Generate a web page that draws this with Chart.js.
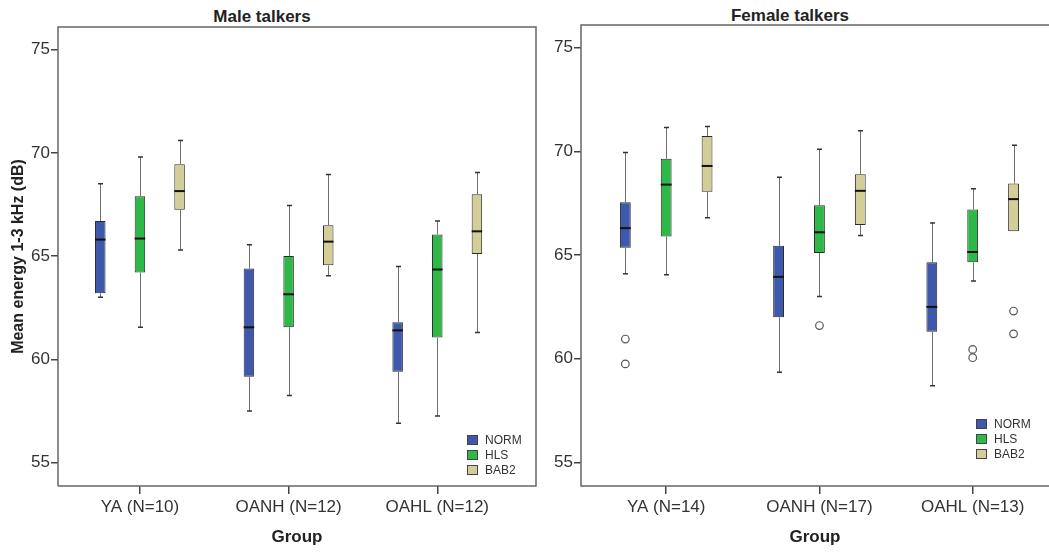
<!DOCTYPE html>
<html lang="en">
<head>
    <meta charset="UTF-8">
    <title>Mean energy 1-3 kHz by group</title>
    <script src="https://cdn.jsdelivr.net/npm/chart.js"></script>
    <style>
        body { margin: 0; background: white; overflow: hidden; font-family: "Liberation Sans", Arial, sans-serif; }
        .panel { position: absolute; top: 0; }
        .panel-title { position: absolute; font-weight: bold; font-size: 17px; line-height: 20px; color: #222; white-space: nowrap; transform: translateX(-50%); }
    </style>
</head>
<body>
    <div class="panel-title" style="left:262px; top:7px;">Male talkers</div>
    <div class="panel-title" style="left:790px; top:6px;">Female talkers</div>
    <canvas id="maleChart" class="panel" width="545" height="552" style="left:0px;"></canvas>
    <canvas id="femaleChart" class="panel" width="504" height="552" style="left:545px;"></canvas>

    <script>
        // categories and tick labels
        const seriesNames = ["NORM", "HLS", "BAB2"];
        const seriesColors = ["#3E58AC", "#2EB848", "#D3CE97"];
        const maleGroups = ["YA (N=10)", "OANH (N=12)", "OAHL (N=12)"];
        const femaleGroups = ["YA (N=14)", "OANH (N=17)", "OAHL (N=13)"];
        const yTicks = [55, 60, 65, 70, 75];

        // box stats per group: [min, q1, median, q3, max]
        const maleNORM = [[63.0, 63.2, 65.8, 66.7, 68.5], [57.5, 59.15, 61.55, 64.4, 65.55], [56.9, 59.4, 61.4, 61.8, 64.5]];
        const maleHLS  = [[61.55, 64.2, 65.85, 67.9, 69.8], [58.25, 61.55, 63.15, 65.0, 67.45], [57.25, 61.05, 64.35, 66.05, 66.7]];
        const maleBAB2 = [[65.3, 67.25, 68.15, 69.45, 70.6], [64.05, 64.55, 65.7, 66.5, 68.95], [61.3, 65.1, 66.2, 68.0, 69.05]];

        const femaleNORM = [[64.1, 65.35, 66.3, 67.55, 69.95], [59.35, 62.0, 63.95, 65.45, 68.75], [58.7, 61.3, 62.5, 64.65, 66.55]];
        const femaleHLS  = [[64.05, 65.9, 68.4, 69.65, 71.15], [63.0, 65.1, 66.1, 67.4, 70.1], [63.75, 64.65, 65.15, 67.2, 68.2]];
        const femaleBAB2 = [[66.8, 68.05, 69.3, 70.75, 71.2], [65.95, 66.45, 68.1, 68.9, 71.0], [66.15, 66.15, 67.7, 68.45, 70.3]];

        // outliers per group
        const maleOutNORM = [[], [], []];
        const maleOutHLS  = [[], [], []];
        const maleOutBAB2 = [[], [], []];
        const femaleOutNORM = [[60.95, 59.75], [], []];
        const femaleOutHLS  = [[], [61.6], [60.45, 60.05]];
        const femaleOutBAB2 = [[], [], [62.3, 61.2]];

        const fontFamily = "'Liberation Sans', Arial, sans-serif";

        // whiskers, medians and outliers on top of the floating bars
        const boxWhiskers = {
            id: 'boxWhiskers',
            afterDatasetsDraw(chart) {
                const ctx = chart.ctx;
                const y = chart.scales.y;
                ctx.save();
                chart.data.datasets.forEach((ds, di) => {
                    const meta = chart.getDatasetMeta(di);
                    meta.data.forEach((bar, i) => {
                        const s = ds.stats[i];
                        const x = Math.round(bar.x) + 0.5;
                        const w = bar.width;
                        ctx.lineWidth = 1;
                        ctx.strokeStyle = '#6f6f6f';
                        ctx.beginPath();
                        if (s[4] > s[3]) { ctx.moveTo(x, y.getPixelForValue(s[3])); ctx.lineTo(x, y.getPixelForValue(s[4])); }
                        if (s[0] < s[1]) { ctx.moveTo(x, y.getPixelForValue(s[1])); ctx.lineTo(x, y.getPixelForValue(s[0])); }
                        ctx.stroke();
                        // caps
                        ctx.strokeStyle = '#333';
                        ctx.lineWidth = 1.5;
                        ctx.beginPath();
                        if (s[4] > s[3]) { const py = y.getPixelForValue(s[4]); ctx.moveTo(x - 2.5, py); ctx.lineTo(x + 2.5, py); }
                        if (s[0] < s[1]) { const py = y.getPixelForValue(s[0]); ctx.moveTo(x - 2.5, py); ctx.lineTo(x + 2.5, py); }
                        ctx.stroke();
                        // median
                        ctx.strokeStyle = '#111';
                        ctx.lineWidth = 2;
                        ctx.beginPath();
                        const my = y.getPixelForValue(s[2]);
                        ctx.moveTo(bar.x - w / 2, my);
                        ctx.lineTo(bar.x + w / 2, my);
                        ctx.stroke();
                        // outliers
                        ctx.strokeStyle = '#555';
                        ctx.lineWidth = 1.2;
                        ctx.fillStyle = 'white';
                        ds.outliers[i].forEach(v => {
                            ctx.beginPath();
                            ctx.arc(bar.x, y.getPixelForValue(v), 3.8, 0, Math.PI * 2);
                            ctx.fill();
                            ctx.stroke();
                        });
                    });
                });
                ctx.restore();
            }
        };

        // frame round the plot area and the small legend inside it
        const frameLegend = {
            id: 'frameLegend',
            afterDraw(chart, args, opts) {
                const ctx = chart.ctx;
                const a = chart.chartArea;
                ctx.save();
                ctx.strokeStyle = '#666';
                ctx.lineWidth = 1.5;
                ctx.beginPath();
                if (opts.right) {
                    ctx.moveTo(a.left, a.bottom); ctx.lineTo(a.left, a.top); ctx.lineTo(a.right, a.top);
                    ctx.lineTo(a.right, a.bottom); ctx.lineTo(a.left, a.bottom);
                } else {
                    ctx.moveTo(a.right + 2, a.top); ctx.lineTo(a.left, a.top);
                    ctx.lineTo(a.left, a.bottom); ctx.lineTo(a.right + 2, a.bottom);
                }
                ctx.stroke();

                const lx = a.left + opts.legendX;
                let ly = a.bottom - opts.legendY;
                ctx.font = "12px " + fontFamily;
                ctx.textBaseline = 'middle';
                chart.data.datasets.forEach(ds => {
                    ctx.fillStyle = ds.backgroundColor;
                    ctx.fillRect(lx, ly, 11, 10);
                    ctx.strokeStyle = '#444';
                    ctx.lineWidth = 1;
                    ctx.strokeRect(lx + 0.5, ly + 0.5, 10, 9);
                    ctx.fillStyle = '#333';
                    ctx.fillText(ds.label, lx + 18, ly + 5.5);
                    ly += 15;
                });
                ctx.restore();
            }
        };

        function makeChart(id, groups, boxes, outs, cfg) {
            const datasets = seriesNames.map((name, k) => ({
                label: name,
                data: boxes[k].map((b, i) => ({ x: i, y: [b[1], b[3]] })),
                stats: boxes[k],
                outliers: outs[k],
                backgroundColor: seriesColors[k],
                borderColor: '#2b2b2b',
                borderWidth: 1,
                borderSkipped: false,
                categoryPercentage: 0.8,
                barPercentage: 0.265
            }));

            return new Chart(document.getElementById(id), {
                type: 'bar',
                data: { datasets: datasets },
                options: {
                    responsive: false,
                    animation: false,
                    events: [],
                    layout: { padding: cfg.padding },
                    plugins: {
                        legend: { display: false },
                        tooltip: { enabled: false },
                        frameLegend: { right: cfg.frameRight, legendX: cfg.legendX, legendY: cfg.legendY }
                    },
                    scales: {
                        x: {
                            type: 'linear',
                            offset: false,
                            min: cfg.xMin,
                            max: cfg.xMax,
                            afterBuildTicks: (scale) => { scale.ticks = groups.map((g, i) => ({ value: i })); },
                            afterFit: (scale) => { scale.height = 66; },
                            grid: { offset: false, drawOnChartArea: false, drawTicks: true, tickLength: 8, color: '#444', lineWidth: 1.5 },
                            border: { display: false },
                            ticks: {
                                callback: (v) => groups[v],
                                maxRotation: 0,
                                autoSkip: false,
                                padding: 3,
                                color: '#333',
                                font: { family: fontFamily, size: 17 }
                            },
                            title: {
                                display: true,
                                text: 'Group',
                                color: '#222',
                                padding: { top: 0, bottom: 4 },
                                font: { family: fontFamily, size: 17, weight: 'bold' }
                            }
                        },
                        y: {
                            min: 53.86,
                            max: 76.1,
                            afterBuildTicks: (scale) => { scale.ticks = yTicks.map(v => ({ value: v })); },
                            afterFit: (scale) => { scale.width = cfg.yWidth; },
                            grid: { drawOnChartArea: false, drawTicks: true, tickLength: 7, color: '#444', lineWidth: 1.5 },
                            border: { display: false },
                            ticks: {
                                padding: 1,
                                color: '#333',
                                font: { family: fontFamily, size: 17 }
                            },
                            title: {
                                display: cfg.yTitle,
                                text: 'Mean energy 1-3 kHz (dB)',
                                color: '#222',
                                padding: { top: 9, bottom: 0 },
                                font: { family: fontFamily, size: 16, weight: 'bold' }
                            }
                        }
                    }
                },
                plugins: [boxWhiskers, frameLegend]
            });
        }

        makeChart('maleChart', maleGroups,
            [maleNORM, maleHLS, maleBAB2], [maleOutNORM, maleOutHLS, maleOutBAB2],
            { padding: { top: 27, right: 9, bottom: 0, left: 0 }, xMin: -0.551, xMax: 2.664, yWidth: 58, yTitle: true,
              frameRight: true, legendX: 409, legendY: 51 });

        makeChart('femaleChart', femaleGroups,
            [femaleNORM, femaleHLS, femaleBAB2], [femaleOutNORM, femaleOutHLS, femaleOutBAB2],
            { padding: { top: 25, right: 0, bottom: 0, left: 0 }, xMin: -0.556, xMax: 2.498, yWidth: 36, yTitle: false,
              frameRight: false, legendX: 395, legendY: 67 });
    </script>
</body>
</html>
